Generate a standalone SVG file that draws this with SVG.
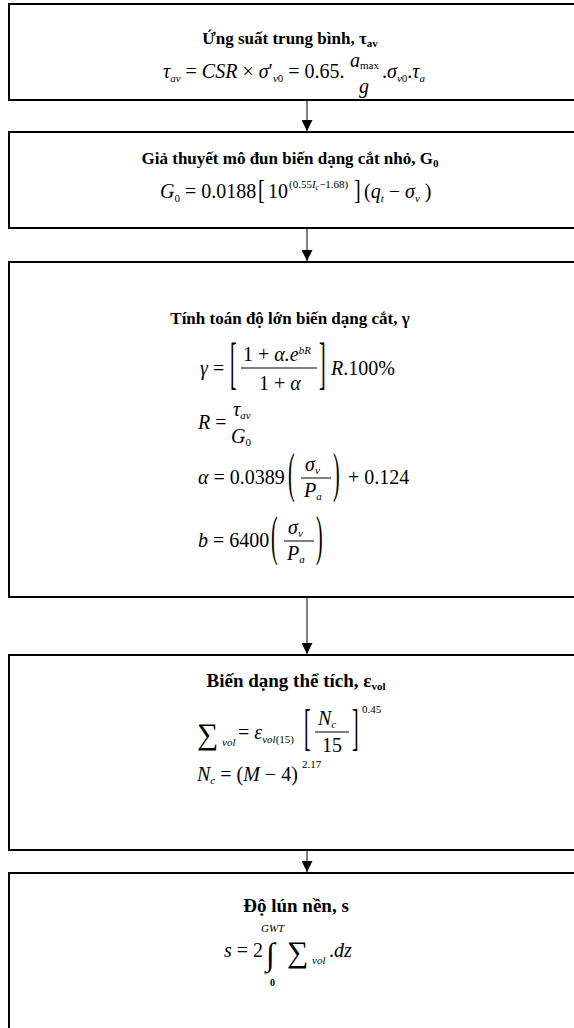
<svg xmlns="http://www.w3.org/2000/svg" width="574" height="1028" viewBox="0 0 574 1028">
<defs>
<style>
.box{fill:#fff;stroke:#000;stroke-width:2}
.t{font-family:"Liberation Serif","Times New Roman",serif;font-weight:bold;font-size:17px;text-anchor:middle;fill:#000}
.tl{font-size:19px}
.m{font-family:"Liberation Serif","Times New Roman",serif;font-size:20px;fill:#000}
.i{font-style:italic}
.s{font-size:11px}
.bar{stroke:#000;stroke-width:1}
.conn line{stroke:#000;stroke-width:1}
</style>
<marker id="ah" viewBox="0 0 12 12" refX="12" refY="6" markerWidth="12" markerHeight="11" markerUnits="userSpaceOnUse" orient="auto">
<path d="M0,0 L12,6 L0,12 z" fill="#000"/>
</marker>
</defs>
<rect width="574" height="1028" fill="#fff"/>

<g id="conn" class="conn">
<line x1="307" y1="101" x2="307" y2="131" marker-end="url(#ah)"/>
<line x1="307" y1="229" x2="307" y2="261" marker-end="url(#ah)"/>
<line x1="307" y1="598" x2="307" y2="654" marker-end="url(#ah)"/>
<line x1="307" y1="851" x2="307" y2="872" marker-end="url(#ah)"/>
</g>

<g id="n1">
<rect class="box" x="9" y="4" width="600" height="96"/>
<text class="t" x="290" y="44">Ứng suất trung bình, τ<tspan class="s" dy="3">av</tspan></text>
<text class="m" x="163" y="78"><tspan class="i">τ</tspan><tspan class="i s" dy="4">av</tspan><tspan dy="-4"> = </tspan><tspan class="i">CSR</tspan> × <tspan class="i">σ</tspan>′<tspan class="i s" dy="4">v</tspan><tspan class="s">0</tspan><tspan dy="-4"> = 0.65.</tspan></text>
<text class="m i" x="350" y="67">a<tspan class="s" font-style="normal" dy="2">max</tspan></text>
<text class="m i" x="359" y="93">g</text>
<text class="m" x="382" y="78">.<tspan class="i">σ</tspan><tspan class="i s" dy="4">v</tspan><tspan class="s">0</tspan><tspan dy="-4">.</tspan><tspan class="i">τ</tspan><tspan class="i s" dy="4">a</tspan></text>
</g>

<g id="n2">
<rect class="box" x="9" y="132" width="600" height="96"/>
<text class="t" x="290" y="164">Giả thuyết mô đun biến dạng cắt nhỏ, G<tspan class="s" dy="3">0</tspan></text>
<text class="m" x="160" y="198"><tspan class="i">G</tspan><tspan class="s" dy="4">0</tspan><tspan dy="-4"> = 0.0188</tspan></text>
<text class="m" transform="translate(258,199) scale(1,1.4)">[</text>
<text class="m" x="268" y="198">10</text>
<text class="m s" x="289" y="188">(0.55<tspan class="i">I</tspan><tspan style="font-size:8px" class="i" dy="2">c</tspan><tspan dy="-2">−1.68)</tspan></text>
<text class="m" transform="translate(354,199) scale(1,1.4)">]</text>
<text class="m" x="364" y="198">(<tspan class="i">q</tspan><tspan class="i s" dy="4">t</tspan><tspan dy="-4"> − </tspan><tspan class="i">σ</tspan><tspan class="i s" dy="4">v</tspan><tspan dy="-4"> )</tspan></text>
</g>

<g id="n3">
<rect class="box" x="9" y="262" width="600" height="335"/>
<text class="t" x="290" y="324">Tính toán độ lớn biến dạng cắt, γ</text>
<text class="m" x="200" y="375"><tspan class="i">γ</tspan> =</text>
<text class="m" transform="translate(230,382) scale(1,2.8)">[</text>
<text class="m" x="243" y="361">1 + <tspan class="i">α.e</tspan><tspan class="i s" dy="-7">bR</tspan></text>
<line class="bar" x1="241" y1="368" x2="317" y2="368"/>
<text class="m" x="259" y="390">1 + <tspan class="i">α</tspan></text>
<text class="m" transform="translate(319,382) scale(1,2.8)">]</text>
<text class="m" x="331" y="375"><tspan class="i">R</tspan>.100%</text>

<text class="m" x="198" y="429"><tspan class="i">R</tspan> =</text>
<text class="m i" x="233" y="416">τ<tspan class="s" dy="3">av</tspan></text>
<text class="m i" x="231" y="443">G<tspan class="s" font-style="normal" dy="3">0</tspan></text>

<text class="m" x="198" y="484"><tspan class="i">α</tspan> = 0.0389</text>
<text class="m" transform="translate(288,491) scale(1,2.7)">(</text>
<text class="m i" x="305" y="471">σ<tspan class="s" dy="3">v</tspan></text>
<line class="bar" x1="301" y1="478" x2="331" y2="478"/>
<text class="m i" x="304" y="497">P<tspan class="s" dy="3">a</tspan></text>
<text class="m" transform="translate(333,491) scale(1,2.7)">)</text>
<text class="m" x="348" y="484">+ 0.124</text>

<text class="m" x="198" y="547"><tspan class="i">b</tspan> = 6400</text>
<text class="m" transform="translate(271,554) scale(1,2.7)">(</text>
<text class="m i" x="288" y="534">σ<tspan class="s" dy="3">v</tspan></text>
<line class="bar" x1="284" y1="541" x2="314" y2="541"/>
<text class="m i" x="287" y="560">P<tspan class="s" dy="3">a</tspan></text>
<text class="m" transform="translate(316,554) scale(1,2.7)">)</text>
</g>

<g id="n4">
<rect class="box" x="9" y="655" width="600" height="195"/>
<text class="t tl" x="296" y="687">Biến dạng thể tích, ε<tspan class="s" dy="3">vol</tspan></text>
<text class="m" x="197" y="744" style="font-size:30px">∑</text>
<text class="m i s" x="222" y="746">vol</text>
<text class="m" x="238" y="739">= <tspan class="i">ε</tspan><tspan class="i s" dy="4">vol</tspan><tspan class="s">(15)</tspan></text>
<text class="m" transform="translate(304,744) scale(1,2.5)">[</text>
<text class="m i" x="318" y="725">N<tspan class="s" dy="3">c</tspan></text>
<line class="bar" x1="315" y1="732" x2="349" y2="732"/>
<text class="m" x="322" y="752">15</text>
<text class="m" transform="translate(352,744) scale(1,2.5)">]</text>
<text class="m s" x="362" y="713">0.45</text>
<text class="m" x="197" y="781"><tspan class="i">N</tspan><tspan class="i s" dy="3">c</tspan><tspan dy="-3"> = </tspan>(<tspan class="i">M</tspan> − 4)</text>
<text class="m s" x="302" y="768">2.17</text>
</g>

<g id="n5">
<rect class="box" x="9" y="873" width="600" height="170"/>
<text class="t tl" x="296" y="912">Độ lún nền, s</text>
<text class="m" x="224" y="957"><tspan class="i">s</tspan> = 2</text>
<text class="m" x="266" y="965" style="font-size:32px">∫</text>
<text class="m i" x="261" y="932" style="font-size:11px">GWT</text>
<text class="m" x="270" y="986" style="font-size:10px;font-weight:bold">0</text>
<text class="m" x="287" y="962" style="font-size:30px">∑</text>
<text class="m i s" x="312" y="964">vol</text>
<text class="m" x="329" y="957">.<tspan class="i">dz</tspan></text>
</g>
</svg>
